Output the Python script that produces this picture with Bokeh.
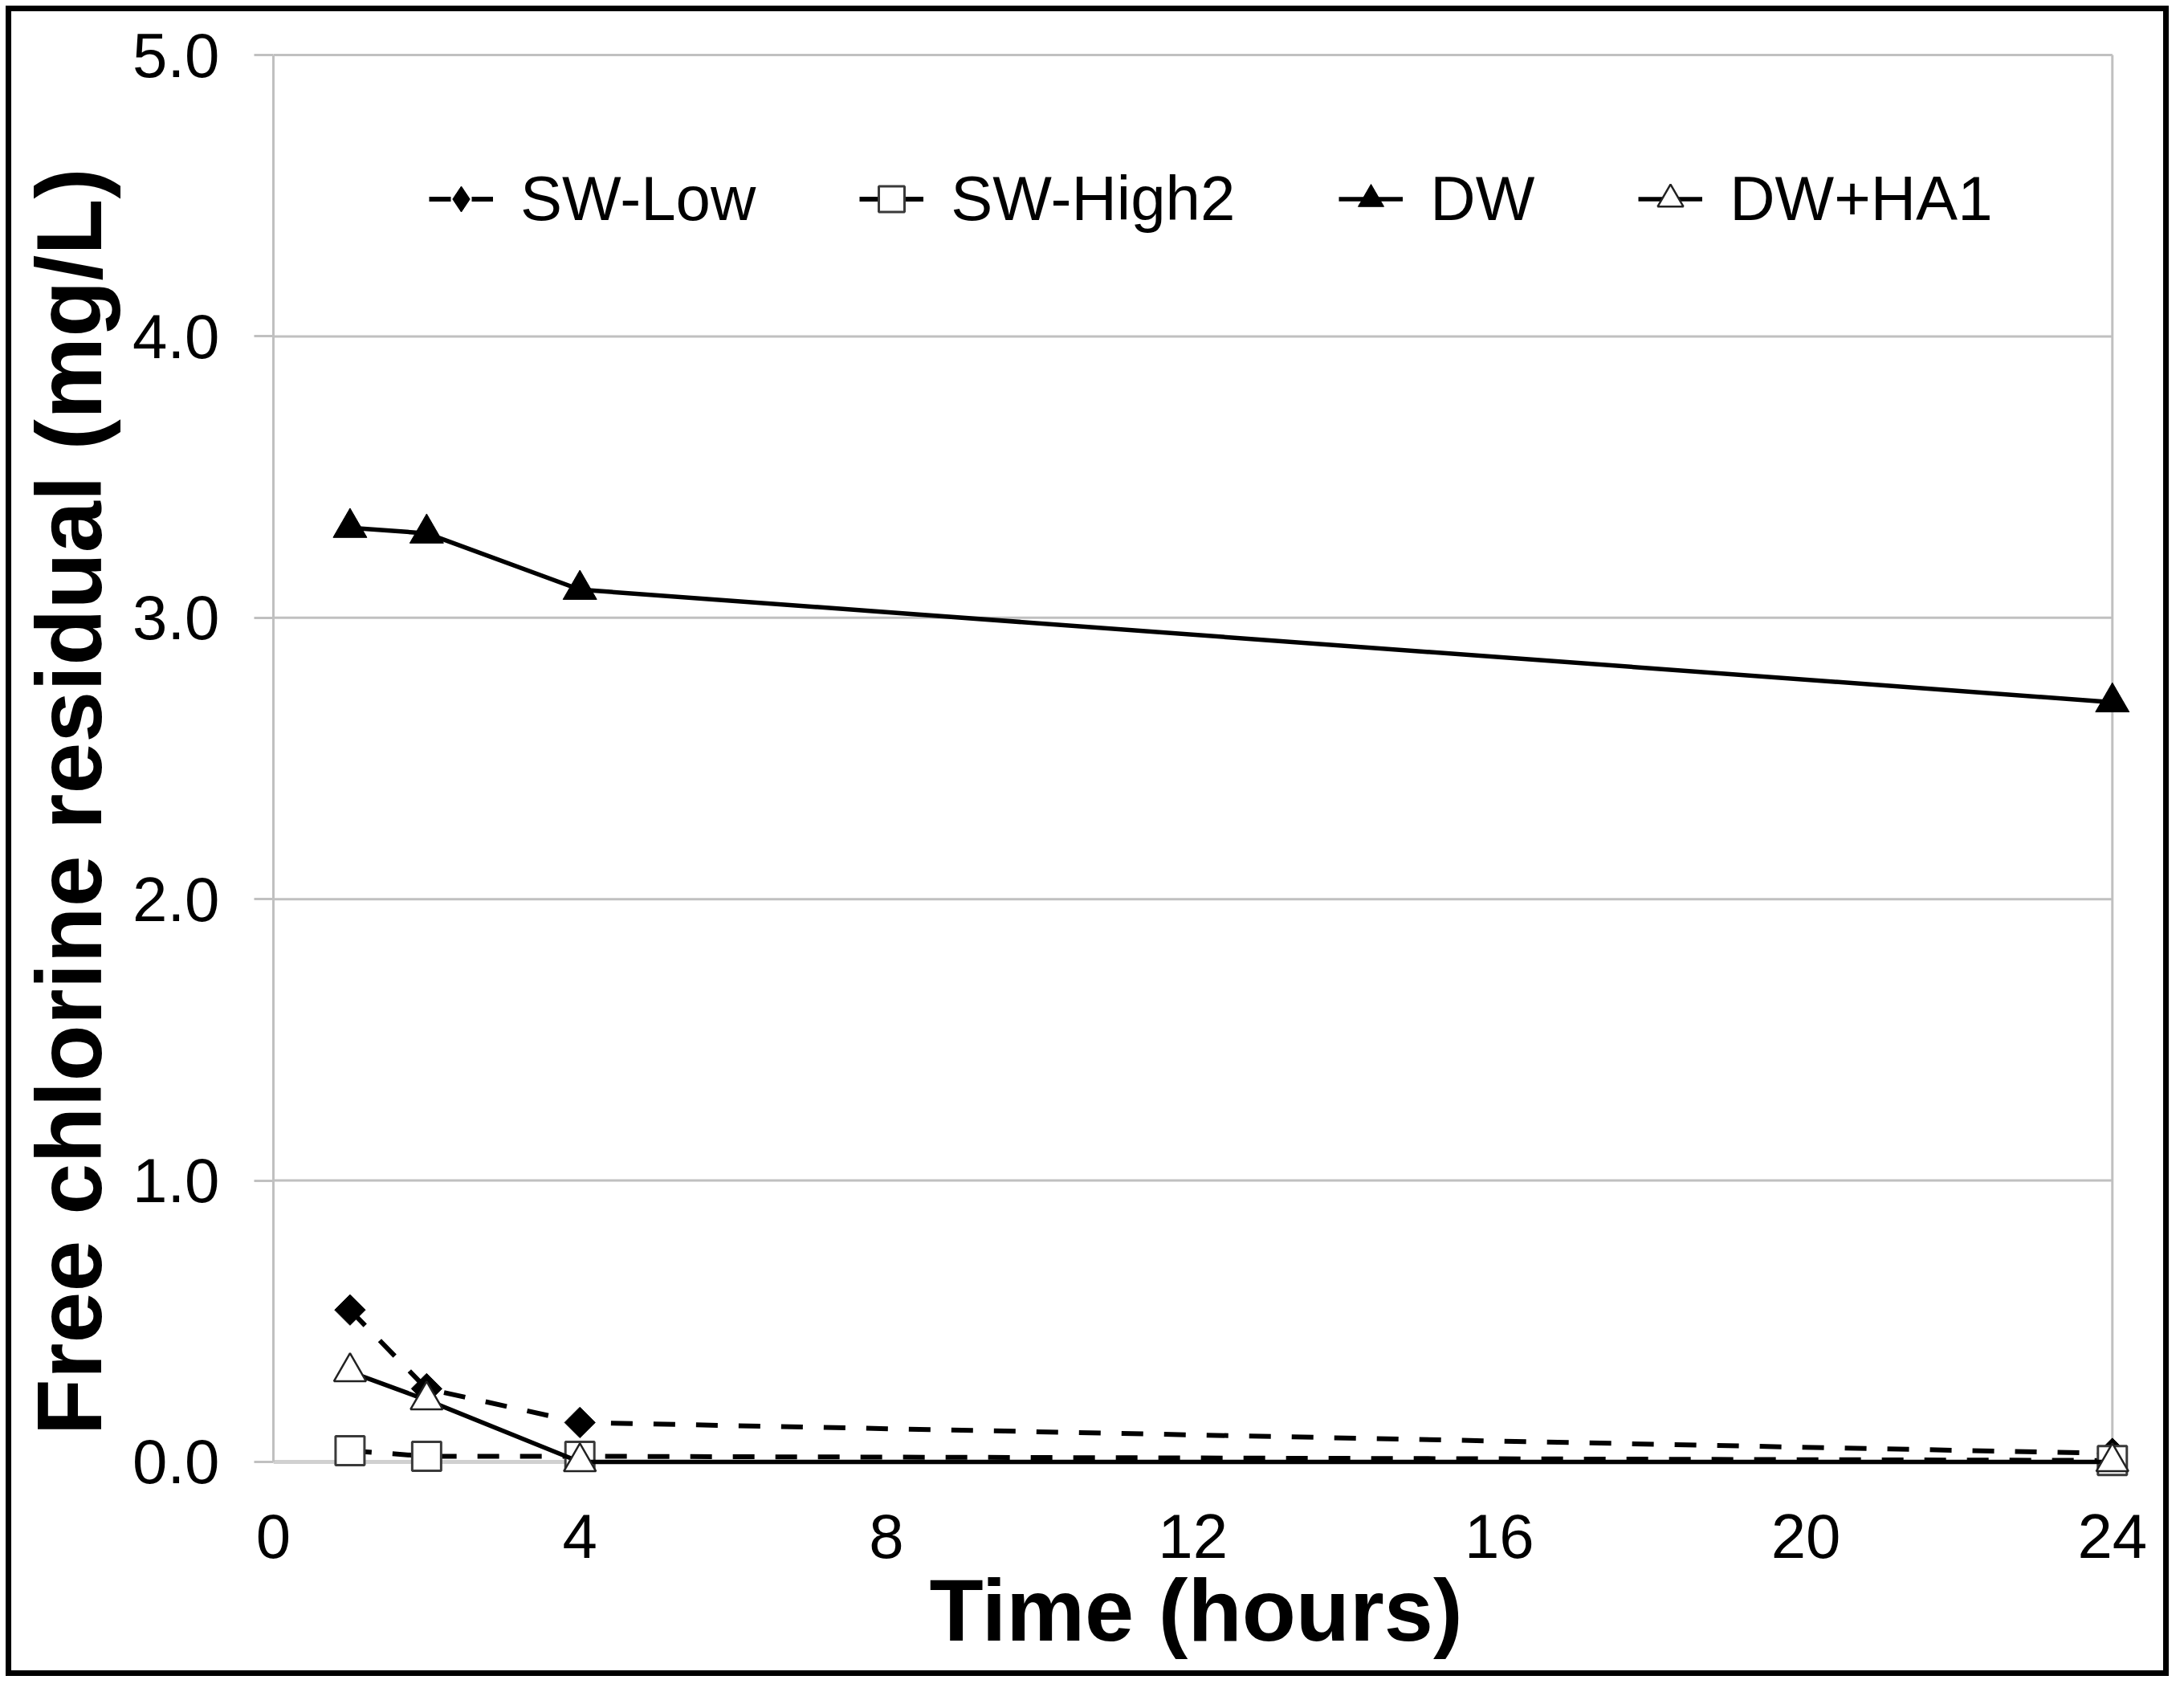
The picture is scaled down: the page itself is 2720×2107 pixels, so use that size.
import numpy as np
from bokeh.plotting import figure
from bokeh.models import (Range1d, FixedTicker, PrintfTickFormatter, Legend,
                          LegendItem, InlineStyleSheet, ColumnDataSource, Title)
from bokeh.embed import file_html
from bokeh.resources import INLINE

# ---- data ----
time_h = [1, 2, 4, 24]
sw_low = [0.54, 0.26, 0.14, 0.03]
sw_high2 = [0.04, 0.02, 0.02, 0.005]
dw = [3.32, 3.30, 3.10, 2.70]
dw_ha1 = [0.32, 0.22, 0.0, 0.0]

series_names = ["SW-Low", "SW-High2", "DW", "DW+HA1"]
x_ticks = [0, 4, 8, 12, 16, 20, 24]
y_ticks = [0, 1, 2, 3, 4, 5]
x_label = "Time (hours)"
y_label = "Free chlorine residual (mg/L)"

FONT = "Liberation Sans"
GRID = "#c0c0c0"

p = figure(width=2708, height=2094, output_backend="svg", toolbar_location=None,
           x_range=Range1d(0, 24.5), y_range=Range1d(-0.08, 5.02),
           min_border_left=340, min_border_right=30,
           min_border_top=61, min_border_bottom=246)
p.border_fill_color = None
p.background_fill_color = "white"
p.outline_line_color = None
p.xgrid.visible = False
p.ygrid.visible = False
p.stylesheets = [InlineStyleSheet(css=":host { outline: 7px solid black; outline-offset: -14px; }")]

# gridlines limited to the data area
xmin, xmax = x_ticks[0], x_ticks[-1]
gl = ColumnDataSource(dict(y=y_ticks[1:], x0=[xmin] * (len(y_ticks) - 1),
                           x1=[xmax] * (len(y_ticks) - 1)))
p.segment(x0="x0", y0="y", x1="x1", y1="y", source=gl, line_color=GRID, line_width=3)
p.segment(x0=[xmax], y0=[y_ticks[0]], x1=[xmax], y1=[y_ticks[-1]], line_color=GRID, line_width=3)
p.segment(x0=[xmin], y0=[y_ticks[0]], x1=[xmax], y1=[y_ticks[0]], line_color="#d0d0d0", line_width=5)

DASH = "27 26"
# SW-Low (diamonds drawn as squares turned by 45 degrees)
l1 = p.line(time_h, sw_low, line_color="black", line_width=6, line_dash=DASH)
m1 = p.scatter(time_h, sw_low, marker="square", angle=np.pi / 4, size=27,
               fill_color="black", line_color="black", line_width=1)
# diamond key for the legend (zero size on the plot itself)
k1 = p.scatter(time_h, sw_low, marker="diamond", size=0, fill_color="black",
               line_color="black", line_width=1)
# SW-High2
l2 = p.line(time_h, sw_high2, line_color="black", line_width=6, line_dash=DASH)
m2 = p.scatter(time_h, sw_high2, marker="square", size=36,
               fill_color="white", line_color="#3a3a3a", line_width=3)
# DW
l3 = p.line(time_h, dw, line_color="black", line_width=5.5)
m3 = p.scatter(time_h, dw, marker="triangle", size=42,
               fill_color="black", line_color="black", line_width=1)
# DW+HA1
l4 = p.line(time_h, dw_ha1, line_color="black", line_width=5.5)
m4 = p.scatter(time_h, dw_ha1, marker="triangle", size=40,
               fill_color="white", line_color="#222222", line_width=2.5)

legend = Legend(items=[LegendItem(label=series_names[0], renderers=[l1, k1]),
                       LegendItem(label=series_names[1], renderers=[l2, m2]),
                       LegendItem(label=series_names[2], renderers=[l3, m3]),
                       LegendItem(label=series_names[3], renderers=[l4, m4])],
                orientation="horizontal", location=(194, 1555),
                padding=0, margin=0, spacing=129, glyph_width=80, glyph_height=85,
                label_standoff=34, label_text_font=FONT, label_text_font_size="78px",
                label_text_color="black", border_line_color=None,
                background_fill_alpha=0)
p.add_layout(legend)

# x axis
xa = p.xaxis[0]
xa.ticker = FixedTicker(ticks=x_ticks)
xa.axis_line_color = None
xa.major_tick_line_color = None
xa.minor_tick_line_color = None
xa.major_tick_out = 0
xa.major_tick_in = 0
xa.major_label_standoff = 37
xa.major_label_text_font = FONT
xa.major_label_text_font_size = "78px"
xa.major_label_text_color = "black"

# y axis
ya = p.yaxis[0]
ya.ticker = FixedTicker(ticks=y_ticks)
ya.formatter = PrintfTickFormatter(format="%.1f")
ya.bounds = (y_ticks[0], y_ticks[-1])
ya.axis_line_color = GRID
ya.axis_line_width = 3
ya.major_tick_line_color = GRID
ya.major_tick_line_width = 3
ya.major_tick_out = 24
ya.major_tick_in = 0
ya.minor_tick_line_color = None
ya.major_label_standoff = 43
ya.major_label_text_font = FONT
ya.major_label_text_font_size = "78px"
ya.major_label_text_color = "black"

# axis titles
p.add_layout(Title(text=y_label, align="left", offset=61, vertical_align="bottom",
                   standoff=26, text_font=FONT, text_font_style="bold",
                   text_font_size="115px", text_color="black"), "left")
p.add_layout(Title(text=x_label, align="left", offset=817, vertical_align="top",
                   standoff=0, text_font=FONT, text_font_style="bold",
                   text_font_size="110px", text_color="black"), "below")

open("out.html", "w").write(file_html(p, INLINE))
